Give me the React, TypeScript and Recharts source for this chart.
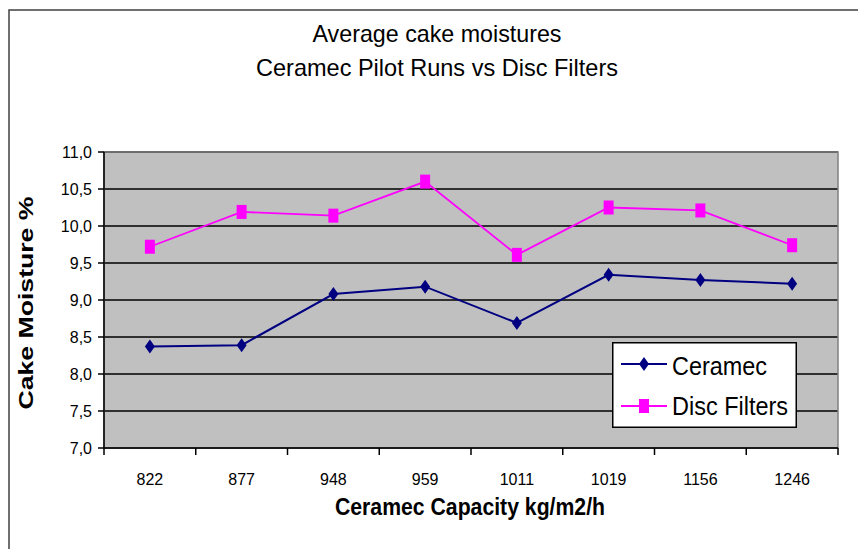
import React from "react"
import {
  LineChart,
  Line,
  XAxis,
  YAxis,
  CartesianGrid,
  ReferenceArea,
  Legend,
} from "recharts"

const categories = ["822", "877", "948", "959", "1011", "1019", "1156", "1246"]
const ceramec = [8.37, 8.39, 9.08, 9.18, 8.69, 9.34, 9.27, 9.22]
const discFilters = [9.72, 10.19, 10.14, 10.6, 9.61, 10.25, 10.21, 9.74]
const yTicks = [7, 7.5, 8, 8.5, 9, 9.5, 10, 10.5, 11]

const data = categories.map((c, i) => ({
  name: c,
  ceramec: ceramec[i],
  disc: discFilters[i],
}))

const font = "'Liberation Sans', Arial, sans-serif"
const navy = "#000080"
const magenta = "#ff00ff"

const Diamond = (props: any) => {
  const { cx, cy } = props
  if (cx == null || cy == null) return null
  return (
    <polygon
      points={`${cx},${cy - 7} ${cx + 5},${cy} ${cx},${cy + 7} ${cx - 5},${cy}`}
      fill={navy}
    />
  )
}

const Square = (props: any) => {
  const { cx, cy } = props
  if (cx == null || cy == null) return null
  return <rect x={cx - 5} y={cy - 7} width={10} height={14} fill={magenta} />
}

// category ticks: marks sit between bands, labels in the middle
const CategoryTick = (props: any) => {
  const { x, y, payload, index, visibleTicksCount, width } = props
  const off = payload?.offset ?? width / categories.length / 2
  return (
    <g>
      <line x1={x - off} x2={x - off} y1={y} y2={y + 7} stroke="#000" strokeWidth={1.5} />
      {index === visibleTicksCount - 1 && (
        <line x1={x + off} x2={x + off} y1={y} y2={y + 7} stroke="#000" strokeWidth={1.5} />
      )}
      <text x={x} y={y + 37} textAnchor="middle" fontFamily={font} fontSize={16} fill="#000">
        {payload.value}
      </text>
    </g>
  )
}

const renderLegend = () => (
  <svg width={185} height={86} style={{ display: "block" }}>
    <rect x={0.75} y={0.75} width={183.5} height={84.5} fill="#fff" stroke="#000" strokeWidth={1.5} />
    <line x1={9} x2={55} y1={22} y2={22} stroke={navy} strokeWidth={2} />
    <Diamond cx={32} cy={22} />
    <text x={60} y={33} fontFamily={font} fontSize={26} textLength={95} lengthAdjust="spacingAndGlyphs">
      Ceramec
    </text>
    <line x1={9} x2={55} y1={64} y2={64} stroke={magenta} strokeWidth={2} />
    <Square cx={32} cy={64} />
    <text x={60} y={73} fontFamily={font} fontSize={26} textLength={116} lengthAdjust="spacingAndGlyphs">
      Disc Filters
    </text>
  </svg>
)

export default function App() {
  return (
    <div style={{ position: "fixed", left: 0, top: 0, width: 858, height: 549, background: "#fff" }}>
      <LineChart
        width={858}
        height={549}
        data={data}
        margin={{ top: 152, right: 20, bottom: 10, left: 10 }}
      >
        <CartesianGrid vertical={false} stroke="#000" strokeWidth={1.5} fill="#c0c0c0" fillOpacity={1} />
        <ReferenceArea y1={7} y2={11} fill="none" stroke="#808080" strokeWidth={1.5} />
        <XAxis
          dataKey="name"
          scale="band"
          height={91}
          tickSize={0}
          tickMargin={0}
          tickLine={false}
          interval={0}
          axisLine={{ stroke: "#000", strokeWidth: 1.5 }}
          tick={<CategoryTick />}
        />
        <YAxis
          width={94}
          domain={[7, 11]}
          ticks={yTicks}
          interval={0}
          tickSize={6}
          tickMargin={6}
          tickFormatter={(v: number) => v.toFixed(1).replace(".", ",")}
          tick={{ fill: "#000", fontSize: 16, fontFamily: font }}
          tickLine={{ stroke: "#000", strokeWidth: 1.5 }}
          axisLine={{ stroke: "#000", strokeWidth: 1.5 }}
        />
        <Legend
          layout="horizontal"
          align="center"
          verticalAlign="middle"
          content={renderLegend}
          wrapperStyle={{ left: 612, top: 342, width: 185, height: 86 }}
        />
        <Line
          dataKey="ceramec"
          name="Ceramec"
          stroke={navy}
          strokeWidth={2}
          dot={<Diamond />}
          activeDot={false}
          isAnimationActive={false}
        />
        <Line
          dataKey="disc"
          name="Disc Filters"
          stroke={magenta}
          strokeWidth={1.8}
          dot={<Square />}
          activeDot={false}
          isAnimationActive={false}
        />
      </LineChart>
      <svg
        width={858}
        height={549}
        style={{ position: "absolute", left: 0, top: 0, pointerEvents: "none" }}
      >
        <rect x={9} y={10} width={900} height={600} fill="none" stroke="#404040" strokeWidth={1.5} />
        <text x={437} y={42} textAnchor="middle" fontFamily={font} fontSize={24} textLength={249} lengthAdjust="spacingAndGlyphs">
          Average cake moistures
        </text>
        <text x={437} y={76} textAnchor="middle" fontFamily={font} fontSize={24} textLength={362} lengthAdjust="spacingAndGlyphs">
          Ceramec Pilot Runs vs Disc Filters
        </text>
        <text x={470} y={515} textAnchor="middle" fontFamily={font} fontSize={24} fontWeight="bold" textLength={270} lengthAdjust="spacingAndGlyphs">
          Ceramec Capacity kg/m2/h
        </text>
        <text
          x={33}
          y={303}
          textAnchor="middle"
          fontFamily={font}
          fontSize={21}
          fontWeight="bold"
          textLength={213}
          lengthAdjust="spacingAndGlyphs"
          transform="rotate(-90 33 303)"
        >
          Cake Moisture %
        </text>
      </svg>
    </div>
  )
}
